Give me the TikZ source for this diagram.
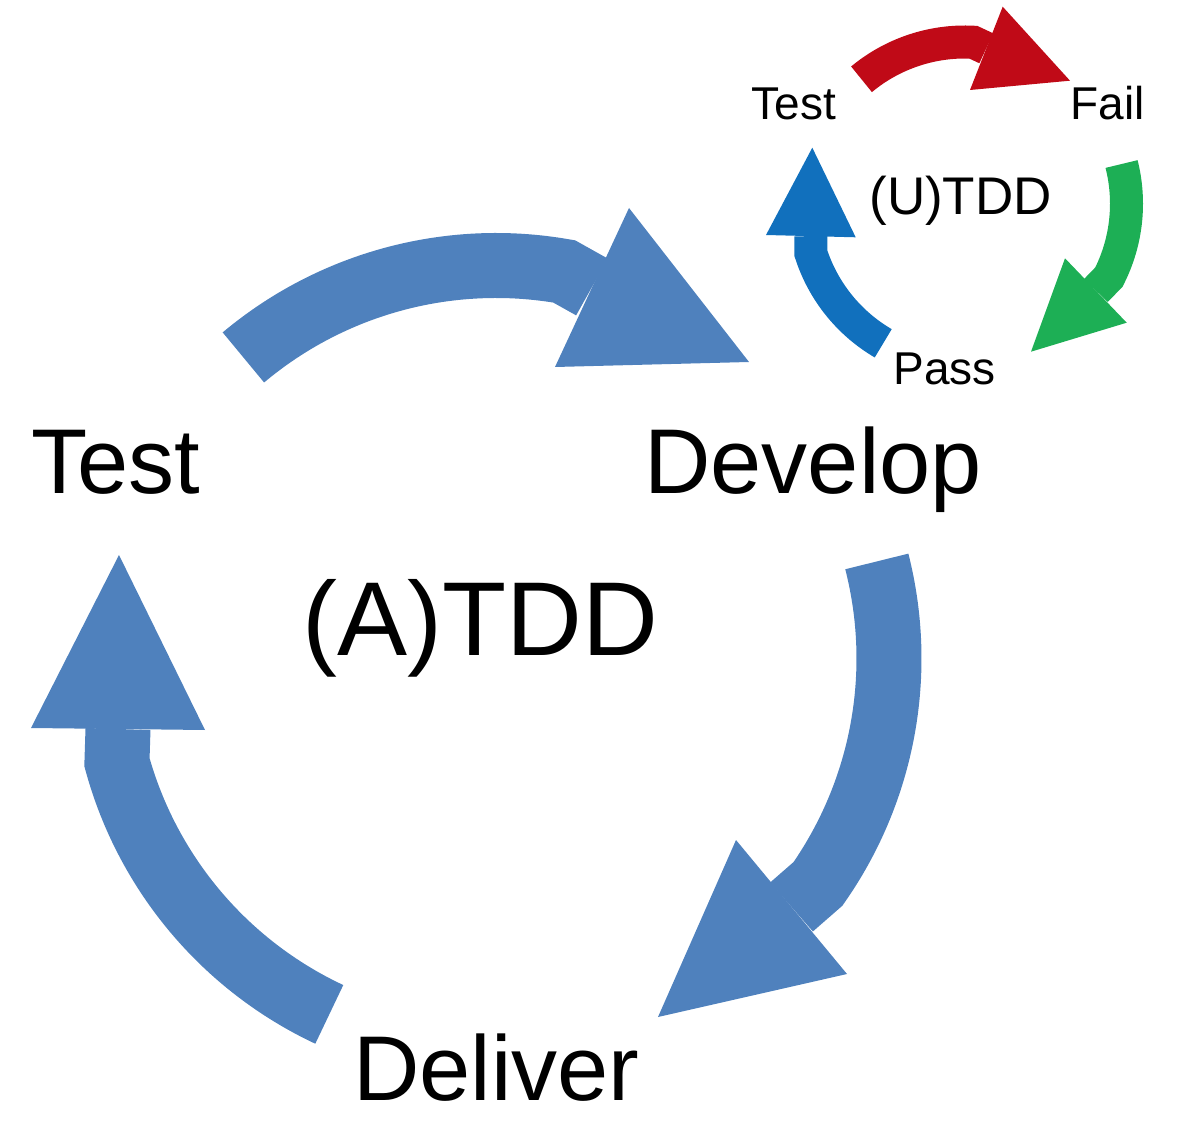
\documentclass[tikz,border=0pt]{standalone}
\usepackage{fontspec}
\setmainfont{Liberation Sans}
\usetikzlibrary{positioning}

\definecolor{atddblue}{HTML}{4F81BD}
\definecolor{failred}{HTML}{C00A17}
\definecolor{passgreen}{HTML}{1DAF55}
\definecolor{utddblue}{HTML}{1170BD}

\begin{document}
\begin{tikzpicture}[x=0.5pt, y=-0.5pt,
    bigband/.style={line width=32.5pt},
    smallband/.style={line width=16.5pt},
    lbl/.style={anchor=base west, inner sep=0pt},
    biglbl/.style={lbl, font=\fontsize{46}{50}\selectfont},
    smalllbl/.style={lbl, font=\fontsize{23}{26}\selectfont}]
    \useasboundingbox (0,0) rectangle (1184,1144);

    \coordinate (A) at (496,658.5);
    \coordinate (U) at (964.8,203.7);

    % outer cycle
    \node [biglbl] (test) at (31,494) {Test};
    \node [biglbl] (develop) at (644,494) {Develop};
    \node [biglbl] (deliver) at (353,1100) {Deliver};
    \node [lbl, font=\fontsize{52.5}{56}\selectfont] (atdd) at (302,655) {(A)TDD};

    \draw [bigband, atddblue] ([shift={(130:196.5pt)}]A) arc [start angle=130, end angle=80, radius=196.5pt] -- (592,287);
    \fill [atddblue] (629,208) -- (749,362) -- (555,367) -- cycle;

    \draw [bigband, atddblue] ([shift={(14.3:196.5pt)}]A) arc [start angle=14.3, end angle=-35, radius=196.5pt] -- (791.5,907);
    \fill [atddblue] (736,840) -- (847,974) -- (658,1017) -- cycle;

    \draw [bigband, atddblue] ([shift={(244.9:196.5pt)}]A) arc [start angle=244.9, end angle=195.3, radius=196.5pt] -- (118,729);
    \fill [atddblue] (31,728) -- (119,555) -- (205,730) -- cycle;

    % inner cycle
    \node [smalllbl] (utest) at (751,120) {Test};
    \node [smalllbl] (fail) at (1070,120) {Fail};
    \node [smalllbl] (pass) at (893,385) {Pass};
    \node [lbl, font=\fontsize{26.5}{29}\selectfont] (utdd) at (869,215) {(U)TDD};

    \draw [smallband, failred] ([shift={(129.7:80.85pt)}]U) arc [start angle=129.7, end angle=87, radius=80.85pt] -- (986.3,48.3);
    \fill [failred] (1002.7,6.7) -- (1070,80.7) -- (970,90) -- cycle;

    \draw [smallband, passgreen] ([shift={(14.2:80.85pt)}]U) arc [start angle=14.2, end angle=-27, radius=80.85pt] -- (1095.9,290.5);
    \fill [passgreen] (1065,258.3) -- (1126.7,322.7) -- (1031,351.7) -- cycle;

    \draw [smallband, utddblue] ([shift={(239.7:80.85pt)}]U) arc [start angle=239.7, end angle=197.9, radius=80.85pt] -- (810.8,236.2);
    \fill [utddblue] (766,235) -- (812.3,147.7) -- (855.7,237.3) -- cycle;
\end{tikzpicture}
\end{document}
